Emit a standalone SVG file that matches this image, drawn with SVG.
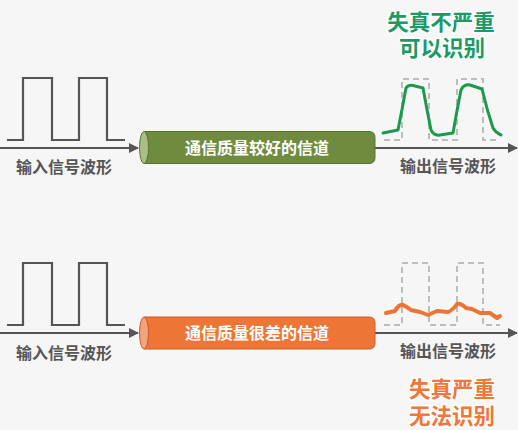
<svg xmlns="http://www.w3.org/2000/svg" width="518" height="430" viewBox="0 0 518 430">
<defs>
<style>
.wave{fill:none;stroke:#555;stroke-width:2.2}
.dash{fill:none;stroke:#bdbdbd;stroke-width:2;stroke-dasharray:6 4}
.axis{fill:none;stroke:#555;stroke-width:2}
.lbl{font-family:"Noto Sans CJK SC","Noto Sans",sans-serif;font-weight:bold;font-size:16px;fill:#555;text-anchor:middle}
.ctext{font-family:"Noto Sans CJK SC","Noto Sans",sans-serif;font-weight:bold;font-size:16px;fill:#fff;text-anchor:middle}
.title{font-family:"Noto Sans CJK SC","Noto Sans",sans-serif;font-weight:bold;font-size:21.5px;text-anchor:middle;stroke:#fff;stroke-width:3;paint-order:stroke}
</style>
<marker id="arr" viewBox="0 0 10 10" refX="9" refY="5" markerWidth="5" markerHeight="5" orient="auto" markerUnits="strokeWidth">
<path d="M0,0 L10,5 L0,10 z" fill="#555"/>
</marker>
</defs>
<rect width="518" height="430" fill="#f6f6f6"/>

<g id="connectors">
<line class="axis" x1="0" y1="148" x2="138" y2="148" marker-end="url(#arr)"/>
<line class="axis" x1="375" y1="148" x2="517" y2="148" marker-end="url(#arr)"/>
<line class="axis" x1="0" y1="333" x2="138" y2="333" marker-end="url(#arr)"/>
<line class="axis" x1="375" y1="333" x2="517" y2="333" marker-end="url(#arr)"/>
</g>

<g id="input-wave-top">
<path class="wave" d="M7,140 H23 V78 H52 V140 H79 V78 H107 V140 H125"/>
<text class="lbl" x="64" y="173">输入信号波形</text>
</g>

<g id="channel-good">
<path d="M144,131.5 H369 Q375,131.5 375,137.5 V157.5 Q375,163.5 369,163.5 H144 Z" fill="#6f8c3e" stroke="#5a7430" stroke-width="1"/>
<ellipse cx="144" cy="147.5" rx="4.5" ry="16" fill="#aabf86" stroke="#5a7430" stroke-width="1"/>
<text class="ctext" x="257" y="154">通信质量较好的信道</text>
</g>

<g id="output-top">
<path class="dash" d="M384,140 H402 V79 H429 V140 H457 V79 H483 V140 H500"/>
<path d="M383,133 L398,130 Q402,110 406,88 Q409,84 415,86 L423,88 Q427,110 431,130 Q434,136 440,135 L453,133 Q457,110 461,90 Q464,84 470,85 L482,89 Q487,110 493,128 Q496,133 501,135" fill="none" stroke="#1a9a4c" stroke-width="3" stroke-linejoin="round" stroke-linecap="round"/>
<text class="lbl" x="448" y="172">输出信号波形</text>
</g>

<g id="note-good">
<text class="title" x="441" y="30" fill="#1b9a66">失真不严重</text>
<text class="title" x="442" y="56" fill="#1b9a66">可以识别</text>
</g>

<g id="input-wave-bottom">
<path class="wave" d="M7,325 H23 V263 H52 V325 H79 V263 H107 V325 H125"/>
<text class="lbl" x="64" y="359">输入信号波形</text>
</g>

<g id="channel-bad">
<path d="M144,317 H369 Q375,317 375,323 V343 Q375,349 369,349 H144 Z" fill="#ed7536" stroke="#c85d26" stroke-width="1"/>
<ellipse cx="144" cy="333" rx="4.5" ry="16" fill="#f2a47c" stroke="#c85d26" stroke-width="1"/>
<text class="ctext" x="257" y="339">通信质量很差的信道</text>
</g>

<g id="output-bottom">
<path class="dash" d="M384,325 H402 V263 H429 V325 H457 V263 H483 V325 H500"/>
<path d="M386,313 L395,311 Q399,304 403,305 Q407,307 411,310 L420,312 L428,315 L437,311 L448,312 Q453,310 457,304 Q461,303 466,308 L472,309 L480,313 L490,313 L497,318 L500,316" fill="none" stroke="#ee7433" stroke-width="4" stroke-linejoin="round" stroke-linecap="round"/>
<text class="lbl" x="448" y="357">输出信号波形</text>
</g>

<g id="note-bad">
<text class="title" x="452" y="397" fill="#f0763a">失真严重</text>
<text class="title" x="452" y="424" fill="#f0763a">无法识别</text>
</g>
</svg>
